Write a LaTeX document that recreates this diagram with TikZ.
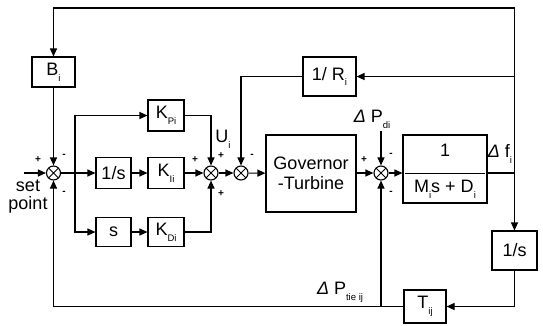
\documentclass[tikz,border=0pt]{standalone}
\usepackage{fontspec}
\setmainfont{Liberation Sans}
\usetikzlibrary{arrows.meta}
\newcommand\sbs[1]{\raisebox{-0.6ex}{\fontsize{9.5}{9.5}\selectfont #1}}
\begin{document}
\begin{tikzpicture}[x=1pt,y=-1pt,line width=1.1pt,
  blk/.style={draw,rectangle,inner sep=0pt,font=\fontsize{18}{20}\selectfont},
  sumj/.style={circle,draw,minimum size=14pt,inner sep=0pt,
    path picture={\draw[line width=0.8pt] (path picture bounding box.north west)--(path picture bounding box.south east)
      (path picture bounding box.north east)--(path picture bounding box.south west);}},
  arr/.style={-{Triangle[length=8pt,width=7pt]}},
  sgn/.style={font=\fontsize{10}{10}\selectfont\bfseries,inner sep=0pt},
  lbl/.style={font=\fontsize{18}{18}\selectfont,inner sep=0pt}]
\useasboundingbox (0,0) rectangle (543,325);

% blocks
\node[blk,minimum width=43pt,minimum height=30pt] (B) at (53.5,72) {B\sbs{i}};
\node[sumj] (s1) at (53.5,173) {};
\node[blk,minimum width=36pt,minimum height=31pt] (Kp) at (166,115.5) {K\sbs{Pi}};
\node[blk,minimum width=35pt,minimum height=31pt] (I1) at (113.5,173) {1/s};
\node[blk,minimum width=36pt,minimum height=31pt] (KI) at (166,173) {K\sbs{Ii}};
\node[blk,minimum width=35pt,minimum height=29pt] (sb) at (113.5,232) {s};
\node[blk,minimum width=36pt,minimum height=29pt] (KD) at (166,232) {K\sbs{Di}};
\node[sumj] (s2) at (211,173) {};
\node[sumj] (s3) at (241,173) {};
\node[blk,minimum width=53pt,minimum height=39pt] (R) at (329.5,76.5) {1/ R\sbs{i}};
\node[blk,minimum width=90pt,minimum height=77pt,align=center] (G) at (311,173.5) {Governor\\-Turbine};
\node[sumj] (s4) at (381,173) {};
\node[blk,minimum width=84pt,minimum height=68pt] (Tf) at (445,169) {};
\node[lbl] (num) at (445,150) {1};
\node[lbl] (den) at (445,189) {M\sbs{i}s + D\sbs{i}};
\node[blk,minimum width=45pt,minimum height=39pt] (oS) at (514.5,250.5) {1/s};
\node[blk,minimum width=42pt,minimum height=33pt] (T) at (425,306.5) {T\sbs{ij}};

% labels
\node[lbl] (U) at (223,139) {U\sbs{i}};
\node[lbl] (Pd) at (372,119) {\textit{Δ} P\sbs{di}};
\node[lbl] (df) at (500,154) {\textit{Δ} f\sbs{i}};
\node[lbl] (Pt) at (340,292) {\textit{Δ} P\sbs{tie ij}};
\node[lbl,align=center] (sp) at (28,197) {set\\point};

% signs
\node[sgn] (a1) at (38,160) {+};
\node[sgn] (a2) at (64,156) {-};
\node[sgn] (a3) at (64,193) {-};
\node[sgn] (b1) at (195,160) {+};
\node[sgn] (b2) at (221,156) {+};
\node[sgn] (b3) at (221,194) {+};
\node[sgn] (c1) at (252,156) {-};
\node[sgn] (d1) at (364,160) {+};
\node[sgn] (d2) at (391,155) {-};
\node[sgn] (d3) at (391,193) {-};

% coordinates
\coordinate (fj) at (oS.north |- s4);
\coordinate (rj) at (fj |- R);
\coordinate (tr) at (514.5,8);
\coordinate (tl) at (B.north |- tr);
\coordinate (spin) at (24,173);
\coordinate (br) at (75,173);
\coordinate (pdin) at (381,131);
\coordinate (bl) at (s1 |- T);
\coordinate (bj) at (s4 |- T);

% connectors
\draw[line width=0.8pt] ([xshift=3pt]Tf.west |- s4) -- ([xshift=-3pt]Tf.east |- s4);
\draw (Tf.east |- s4) -- (fj);
\draw[arr] (fj) -- (oS.north);
\draw[arr] (fj) -- (rj) -- (R.east);
\draw[arr] (rj) -- (tr) -- (tl) -- (B.north);
\draw[arr] (B.south) -- (s1.north);
\draw[arr] (spin) -- (s1.west);
\draw (s1.east) -- (br);
\fill (br) circle (1.5pt);
\draw[arr] (br) -- (I1.west);
\draw[arr] (br) |- (Kp.west);
\draw[arr] (br) |- (sb.west);
\draw[arr] (I1) -- (KI);
\draw[arr] (sb) -- (KD);
\draw[arr] (Kp.east) -| (s2.north);
\draw[arr] (KI) -- (s2);
\draw[arr] (KD.east) -| (s2.south);
\draw[arr] (s2) -- (s3);
\draw[arr] (R.west) -| (s3.north);
\draw[arr] (s3) -- (G);
\draw[arr] (G.east |- s4) -- (s4);
\draw[arr] (pdin) -- (s4.north);
\draw[arr] (s4) -- (Tf.west |- s4);
\draw[arr] (oS.south) |- (T.east);
\draw (T.west) -- (bl);
\draw[arr] (bl) -- (s1.south);
\draw[arr] (bj) -- (s4.south);
\end{tikzpicture}
\end{document}
